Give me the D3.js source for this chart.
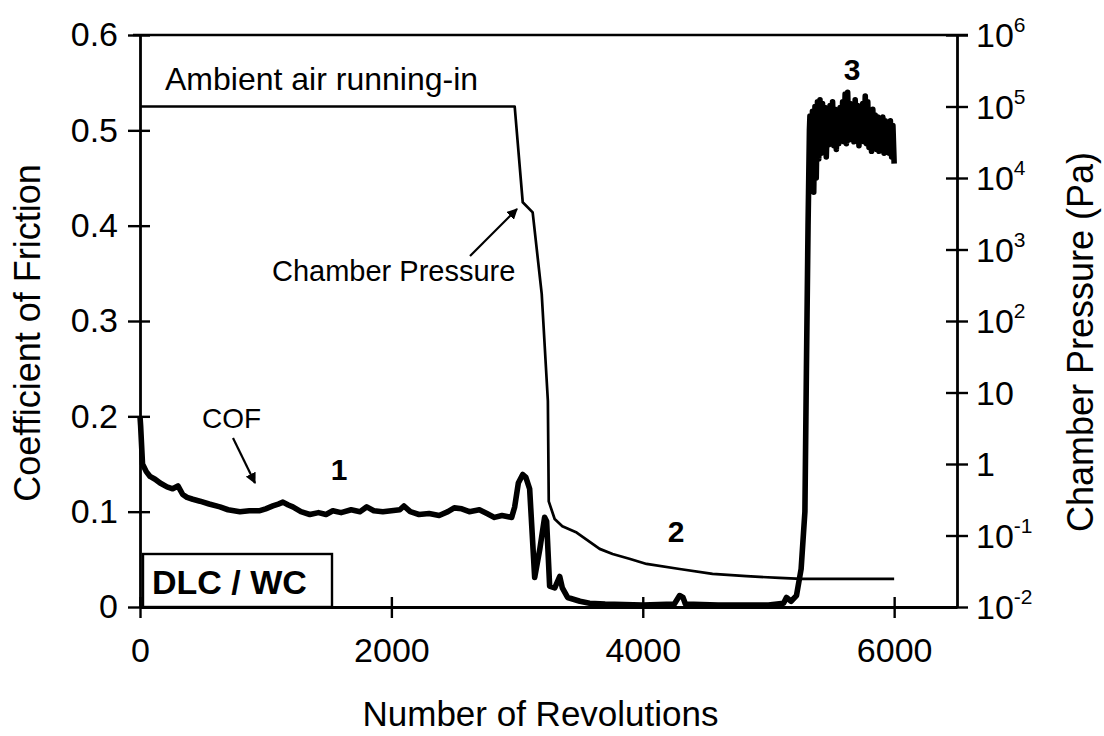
<!DOCTYPE html>
<html>
<head>
<meta charset="utf-8">
<script src="https://cdn.jsdelivr.net/npm/d3@7"></script>
<style>
  html, body { margin: 0; padding: 0; background: #fff; }
  svg { display: block; font-family: "Liberation Sans", Arial, sans-serif; }
</style>
</head>
<body>
<svg id="chart" width="1104" height="736"></svg>
<script>
// Coefficient of friction vs. revolutions (left axis)
const cofRevs = [
  0, 5, 20, 50, 80, 120, 160, 215, 260, 302, 340, 374, 420, 477, 550, 636, 700, 795, 870, 954,
  1000, 1057, 1100, 1137, 1180, 1216, 1280, 1351, 1420, 1480, 1534, 1600, 1680, 1750, 1804, 1860, 1932,
  2000, 2067, 2100, 2150, 2220, 2300, 2380, 2450, 2500, 2560, 2620, 2700, 2760, 2820, 2880, 2957,
  2981, 3010, 3045, 3070, 3100, 3140, 3180, 3219, 3235, 3259, 3300, 3339, 3360, 3402, 3500, 3577, 3700,
  4000, 4250, 4293, 4320, 4340, 4600, 5000, 5120, 5143, 5180, 5223, 5260, 5290, 5302, 5315, 5326,
  5330, 5340, 5350, 5360, 5370, 5380, 5390, 5400, 5410, 5420, 5430, 5440, 5450, 5460, 5470, 5480, 5490,
  5500, 5510, 5520, 5530, 5540, 5550, 5560, 5570, 5580, 5590, 5600, 5610, 5620, 5630, 5640, 5650, 5660,
  5670, 5680, 5690, 5700, 5710, 5720, 5730, 5740, 5750, 5760, 5770, 5780, 5790, 5800, 5810, 5820, 5830,
  5840, 5850, 5860, 5870, 5880, 5890, 5900, 5910, 5920, 5930, 5940, 5950, 5960, 5970, 5980, 5990, 6000
];
const cofValues = [
  0.200, 0.190, 0.150, 0.142, 0.137, 0.134, 0.130, 0.126, 0.124, 0.127, 0.118, 0.115, 0.113, 0.111, 0.108, 0.105, 0.102, 0.100, 0.101, 0.101,
  0.103, 0.106, 0.108, 0.110, 0.107, 0.105, 0.100, 0.097, 0.099, 0.097, 0.101, 0.099, 0.102, 0.100, 0.105, 0.101, 0.100,
  0.101, 0.102, 0.106, 0.100, 0.097, 0.098, 0.096, 0.100, 0.104, 0.103, 0.100, 0.102, 0.098, 0.094, 0.096, 0.094,
  0.105, 0.130, 0.139, 0.136, 0.124, 0.031, 0.060, 0.094, 0.090, 0.022, 0.020, 0.032, 0.020, 0.010, 0.006, 0.004, 0.003,
  0.002, 0.003, 0.012, 0.010, 0.003, 0.002, 0.002, 0.004, 0.010, 0.006, 0.012, 0.040, 0.100, 0.250, 0.400, 0.500,
  0.515, 0.440, 0.520, 0.435, 0.525, 0.450, 0.530, 0.470, 0.532, 0.476, 0.528, 0.478, 0.524, 0.472, 0.518, 0.485, 0.526,
  0.488, 0.530, 0.484, 0.522, 0.480, 0.516, 0.486, 0.524, 0.490, 0.530, 0.488, 0.538, 0.486, 0.540, 0.490, 0.528, 0.492,
  0.520, 0.488, 0.532, 0.490, 0.526, 0.484, 0.520, 0.490, 0.528, 0.488, 0.536, 0.486, 0.530, 0.482, 0.518, 0.478, 0.522,
  0.484, 0.516, 0.480, 0.514, 0.478, 0.512, 0.484, 0.514, 0.476, 0.510, 0.480, 0.508, 0.476, 0.510, 0.472, 0.505, 0.465
];

// Chamber pressure (Pa) vs. revolutions (right, logarithmic axis)
const pressureRevs = [0, 2981, 3045, 3124, 3196, 3245, 3252, 3299, 3360, 3474, 3657, 3760, 3900, 4030, 4293, 4555, 4825, 5087, 5262, 6000];
const pressureValues = [1e5, 1e5, 4570, 3300, 240, 7.6, 0.30, 0.17, 0.135, 0.11, 0.065, 0.055, 0.047, 0.040, 0.034, 0.029, 0.027, 0.0255, 0.0247, 0.0247];

// Tick values
const xTicks = [0, 2000, 4000, 6000];
const cofTicks = [0, 0.1, 0.2, 0.3, 0.4, 0.5, 0.6];
const cofTickLabels = ["0", "0.1", "0.2", "0.3", "0.4", "0.5", "0.6"];
const pressureTicks = [1e-2, 1e-1, 1, 10, 1e2, 1e3, 1e4, 1e5, 1e6];
const pressureTickBase = ["10", "10", "1", "10", "10", "10", "10", "10", "10"];
const pressureTickExp = ["-2", "-1", "", "", "2", "3", "4", "5", "6"];

const svg = d3.select("#chart");
const plotLeft = 140, plotRight = 957, plotTop = 35, plotBottom = 607;

const x = d3.scaleLinear().domain([0, 6500]).range([plotLeft, plotRight]);
const yCof = d3.scaleLinear().domain([0, 0.6]).range([plotBottom, plotTop]);
const yP = d3.scaleLog().domain([1e-2, 1e6]).range([plotBottom, plotTop]);

const cofData = cofRevs.map((r, i) => [r, cofValues[i]]);
const pData = pressureRevs.map((r, i) => [r, pressureValues[i]]);

// Pressure trace
svg.append("path")
  .datum(pData)
  .attr("fill", "none")
  .attr("stroke", "#000")
  .attr("stroke-width", 2.7)
  .attr("stroke-linejoin", "round")
  .attr("d", d3.line().x(d => x(d[0])).y(d => yP(d[1])));

// Friction trace
svg.append("path")
  .datum(cofData)
  .attr("fill", "none")
  .attr("stroke", "#000")
  .attr("stroke-width", 5.6)
  .attr("stroke-linejoin", "round")
  .attr("d", d3.line().x(d => x(d[0])).y(d => yCof(d[1])));

// Top frame line
svg.append("line")
  .attr("x1", plotLeft - 7).attr("x2", plotRight + 11)
  .attr("y1", plotTop).attr("y2", plotTop)
  .attr("stroke", "#000").attr("stroke-width", 2.5);

function styleAxis(g) {
  g.select(".domain").attr("stroke", "#000").attr("stroke-width", 2.8);
  g.selectAll(".tick line").attr("stroke", "#000").attr("stroke-width", 2.4);
  g.selectAll(".tick text").attr("fill", "#000");
}

// Bottom axis
const gx = svg.append("g")
  .attr("transform", `translate(0,${plotBottom})`)
  .call(d3.axisBottom(x).tickValues(xTicks).tickFormat(d3.format("d")).tickSize(11).tickSizeOuter(0).tickPadding(20))
  .attr("font-family", null).attr("font-size", null);
gx.selectAll(".tick line").attr("y1", -10);
gx.selectAll(".tick text").style("font-size", "34px");
styleAxis(gx);

// Left axis
const gl = svg.append("g")
  .attr("transform", `translate(${plotLeft},0)`)
  .call(d3.axisLeft(yCof).tickValues(cofTicks).tickFormat((d, i) => cofTickLabels[i]).tickSize(12).tickSizeOuter(0).tickPadding(10))
  .attr("font-family", null).attr("font-size", null);
gl.selectAll(".tick line").attr("x1", 10);
gl.selectAll(".tick text").style("font-size", "34px");
styleAxis(gl);

// Right axis (log)
const gr = svg.append("g")
  .attr("transform", `translate(${plotRight},0)`)
  .call(d3.axisRight(yP).tickValues(pressureTicks).tickFormat("").tickSize(11).tickSizeOuter(0))
  .attr("font-family", null).attr("font-size", null);
gr.selectAll(".tick line").attr("x1", -11);
styleAxis(gr);
gr.selectAll(".tick").each(function (d, i) {
  const t = d3.select(this).append("text")
    .attr("x", 19).attr("dy", "0.34em")
    .attr("fill", "#000")
    .attr("text-anchor", "start")
    .style("font-size", "34px");
  t.append("tspan").text(pressureTickBase[i]);
  if (pressureTickExp[i]) {
    t.append("tspan").attr("dy", -15).style("font-size", "21px").text(pressureTickExp[i]);
  }
});

// Axis titles
svg.append("text")
  .attr("transform", `translate(${(plotLeft + plotRight) / 2 - 8},726)`)
  .attr("text-anchor", "middle")
  .style("font-size", "35px")
  .text("Number of Revolutions");

svg.append("text")
  .attr("transform", "translate(40,333) rotate(-90)")
  .attr("text-anchor", "middle")
  .style("font-size", "36px")
  .text("Coefficient of Friction");

svg.append("text")
  .attr("transform", "translate(1093,342) rotate(-90)")
  .attr("text-anchor", "middle")
  .style("font-size", "36px")
  .text("Chamber Pressure (Pa)");

// Annotations
svg.append("text")
  .attr("x", 165).attr("y", 90)
  .style("font-size", "32px")
  .text("Ambient air running-in");

svg.append("text")
  .attr("x", 272).attr("y", 281)
  .style("font-size", "29px")
  .text("Chamber Pressure");

svg.append("text")
  .attr("x", 202).attr("y", 428)
  .style("font-size", "28px")
  .text("COF");

const defs = svg.append("defs");
defs.append("marker")
  .attr("id", "arrowhead")
  .attr("viewBox", "0 0 10 10")
  .attr("refX", 9).attr("refY", 5)
  .attr("markerWidth", 5).attr("markerHeight", 5)
  .attr("markerUnits", "strokeWidth")
  .attr("orient", "auto")
  .append("path").attr("d", "M0,0 L10,5 L0,10 z").attr("fill", "#000");

svg.append("line")
  .attr("x1", 470).attr("y1", 256).attr("x2", 517).attr("y2", 209)
  .attr("stroke", "#000").attr("stroke-width", 2.2)
  .attr("marker-end", "url(#arrowhead)");

svg.append("line")
  .attr("x1", 233).attr("y1", 438).attr("x2", 255).attr("y2", 483)
  .attr("stroke", "#000").attr("stroke-width", 2.2)
  .attr("marker-end", "url(#arrowhead)");

[["1", 339, 480], ["2", 676, 542], ["3", 852, 80]].forEach(([t, tx, ty]) => {
  svg.append("text")
    .attr("x", tx).attr("y", ty)
    .attr("text-anchor", "middle")
    .style("font-size", "30px")
    .style("font-weight", "bold")
    .text(t);
});

// Material pair box
svg.append("rect")
  .attr("x", 143).attr("y", 554)
  .attr("width", 189).attr("height", plotBottom - 554)
  .attr("fill", "#fff")
  .attr("stroke", "#000").attr("stroke-width", 2.4);
svg.append("text")
  .attr("x", 152).attr("y", 594)
  .style("font-size", "34px")
  .style("font-weight", "bold")
  .text("DLC / WC");
</script>
</body>
</html>
